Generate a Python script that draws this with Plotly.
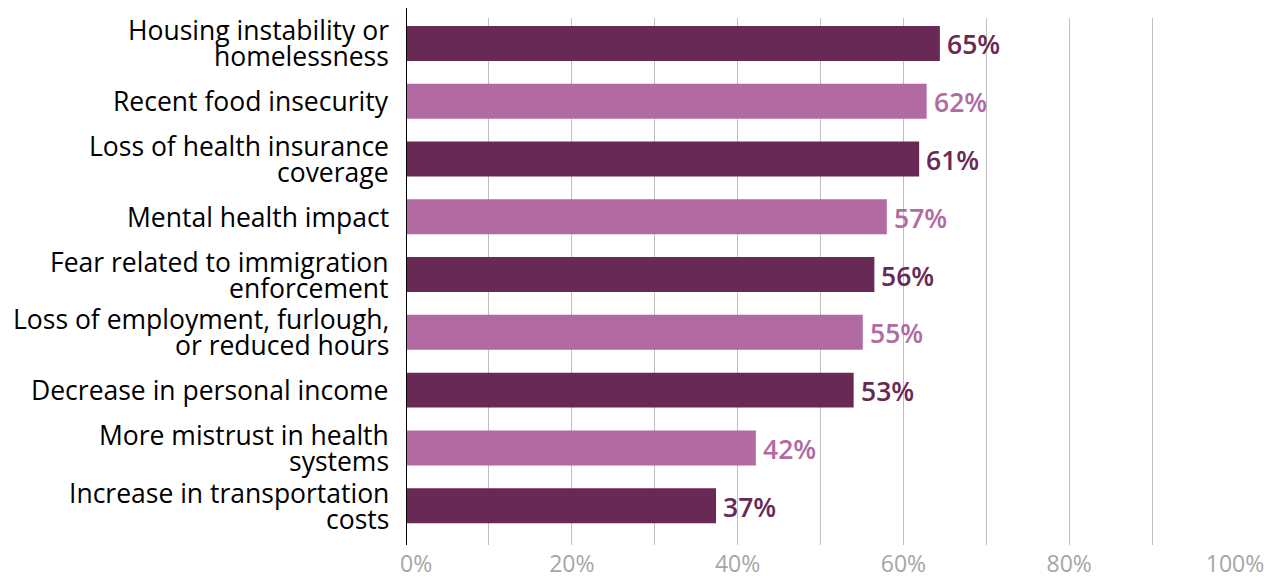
import plotly.graph_objects as go

categories = [
    "Housing instability or<br>homelessness",
    "Recent food insecurity",
    "Loss of health insurance<br>coverage",
    "Mental health impact",
    "Fear related to immigration<br>enforcement",
    "Loss of employment, furlough,<br>or reduced hours",
    "Decrease in personal income",
    "More mistrust in health<br>systems",
    "Increase in transportation<br>costs",
]
values = [64.4, 62.8, 61.9, 58.0, 56.5, 55.1, 54.0, 42.2, 37.4]
value_labels = ["65%", "62%", "61%", "57%", "56%", "55%", "53%", "42%", "37%"]
x_ticks = [0, 20, 40, 60, 80, 100]
x_tick_labels = ["0%", "20%", "40%", "60%", "80%", "100%"]

DARK = "#682955"
LIGHT = "#b26aa3"
colors = [DARK if i % 2 == 0 else LIGHT for i in range(len(categories))]

fig = go.Figure()
fig.add_trace(go.Bar(
    x=values,
    y=categories,
    orientation="h",
    marker=dict(color=colors, line=dict(width=0)),
    hoverinfo="skip",
))

# value labels
for cat, v, lab, c in zip(categories, values, value_labels, colors):
    fig.add_annotation(x=v, y=cat, xref="x", yref="y", text=lab, showarrow=False,
                       xanchor="left", yanchor="middle", xshift=5, yshift=-1,
                       font=dict(family="Open Sans", size=26.5, color=c, weight=600))

# category labels (tight line spacing)
LINE = 13
for cat in categories:
    lines = cat.split("<br>")
    n = len(lines)
    for i, ln in enumerate(lines):
        shift = ((n - 1) / 2 - i) * 2 * LINE
        fig.add_annotation(x=0, y=cat, xref="paper", yref="y", text=ln, showarrow=False,
                           xanchor="right", yanchor="middle", xshift=-15, yshift=shift,
                           font=dict(family="Open Sans", size=26.5, color="black"))

# the first tick label sits right of its gridline in the reference
tick_text_shown = [""] + x_tick_labels[1:]
fig.add_annotation(x=x_ticks[0], y=0, xref="x", yref="paper", text=x_tick_labels[0],
                   showarrow=False, xanchor="left", yanchor="middle", xshift=-7, yshift=-18,
                   borderpad=0,
                   font=dict(family="Open Sans", size=23, color="#a6a6a6"))

fig.update_layout(
    width=1275, height=578,
    margin=dict(l=406, r=40, t=18, b=33, autoexpand=False),
    plot_bgcolor="white",
    paper_bgcolor="white",
    showlegend=False,
    bargap=0.395,
    font=dict(family="Open Sans", color="black"),
    xaxis=dict(
        range=[0, 100],
        tickvals=x_ticks,
        ticktext=tick_text_shown,
        showgrid=True, gridcolor="#bfbfbf", gridwidth=1,
        minor=dict(dtick=10, showgrid=True, gridcolor="#bfbfbf", gridwidth=1),
        zeroline=False, showline=False,
        tickfont=dict(family="Open Sans", size=23, color="#a6a6a6"),
        ticks="", automargin=False, ticklabelstandoff=3,
    ),
    yaxis=dict(
        type="category",
        categoryorder="array",
        categoryarray=categories,
        range=[8.68, -0.44],
        showgrid=False, zeroline=False, showline=False,
        showticklabels=False,
        ticks="", automargin=False,
    ),
)

fig.add_shape(type="line", xref="x", yref="paper", x0=0, x1=0, y0=0, y1=1.019,
              line=dict(color="black", width=2), layer="above")

fig.write_html("out.html")
